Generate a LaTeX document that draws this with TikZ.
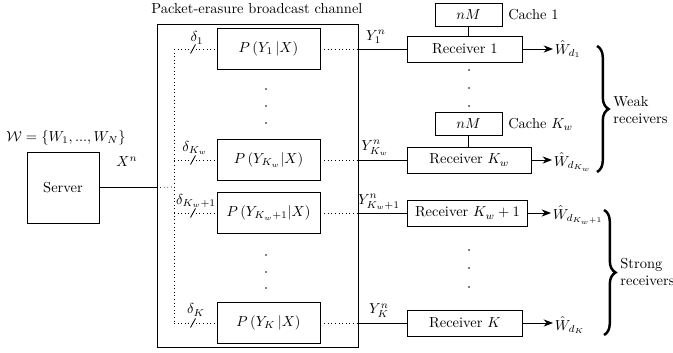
\documentclass[tikz,border=0pt]{standalone}
\usetikzlibrary{arrows.meta,decorations.pathreplacing}
\newcommand\pxl{0.69pt}
\begin{document}
\begin{tikzpicture}[x=0.69pt,y=-0.69pt,line width=0.6pt,
  box/.style={draw,inner sep=0pt},
  pbox/.style={box,minimum width=103*\pxl,minimum height=41*\pxl},
  recbox/.style={box,anchor=west,minimum height=26*\pxl},
  cachebox/.style={box,minimum width=67*\pxl,minimum height=23*\pxl},
  tap/.style={dotted,line width=0.5pt},
  outarrow/.style={-{Stealth[length=6.5pt,width=5pt]}},
  outlabel/.style={anchor=west,inner sep=1pt},
  dotmark/.style={circle,fill,inner sep=0pt,minimum size=1.2pt},
  groupbrace/.style={decorate,decoration={brace,amplitude=8pt},line width=1.7pt},
  bracelabel/.style={anchor=west,align=left,inner sep=0pt}]
\useasboundingbox (0,0) rectangle (673,353);

% channel block
\node (title) at (257,9) {Packet-erasure broadcast channel};
\node[draw,minimum width=201*\pxl,minimum height=323*\pxl] (chan) at (257.5,185.5) {};

\node[pbox] (p1)   at (268.5,49)  {$P\left(Y_1\,|X\right)$};
\node[pbox] (pkw)  at (268.5,160) {$P\left(Y_{K_w}|X\right)$};
\node[pbox] (pkw1) at (268.5,213) {$P\left(Y_{K_w+1}|X\right)$};
\node[pbox] (pk)   at (268.5,323) {$P\left(Y_K\,|X\right)$};

\foreach \yy in {89,106,123,255,272,288}
  \node[dotmark] at (266,\yy) {};

% server and its input
\node[box,minimum width=72*\pxl,minimum height=71*\pxl] (server) at (63,187.5) {Server};
\node (wset) at (66,138) {$\mathcal{W}=\{W_1,...,W_N\}$};
\node (xn) at (127,162) {$X^n$};

\coordinate (split) at (174,187);
\coordinate (t1) at (174,49);
\coordinate (tkw) at (174,160);
\coordinate (tkw1) at (174,213);
\coordinate (tk) at (174,323);

\draw (server.east) -- (server.east -| chan.west) coordinate (entry);
\draw[tap] (entry) -- (split);
\draw[tap] (t1) -- (tk);
\foreach \t/\p in {t1/p1,tkw/pkw,tkw1/pkw1,tk/pk}
  \draw[tap] (\t) -- (\p.west);

% erasure marks
\foreach \yy in {49,160,213,323}
  \draw (193,\yy) ++(-2.5,4.5) -- ++(5,-9);
\node (d1)   at (197,38)  {$\delta_1$};
\node (dkw)  at (195,148) {$\delta_{K_w}$};
\node (dkw1) at (196,201) {$\delta_{K_w+1}$};
\node (dk)   at (196,310) {$\delta_K$};

% receivers
\node[recbox,minimum width=115*\pxl] (rec1)   at (407,49)  {Receiver 1};
\node[recbox,minimum width=124*\pxl] (reckw)  at (407,160) {Receiver $K_w$};
\node[recbox,minimum width=120*\pxl] (reckw1) at (407,213) {Receiver $K_w+1$};
\node[recbox,minimum width=115*\pxl] (reck)   at (407,323) {Receiver $K$};

\foreach \p/\r in {p1/rec1,pkw/reckw,pkw1/reckw1,pk/reck}{
  \draw[tap] (\p.east) -- (\p.east -| chan.east) coordinate (o\p);
  \draw (o\p) -- (\r.west);
}

\node (y1)   at (376,37)  {$Y_1^n$};
\node (ykw)  at (375,148) {$Y_{K_w}^n$};
\node (ykw1) at (379,202) {$Y_{K_w+1}^n$};
\node (yk)   at (379,311) {$Y_K^n$};

\foreach \yy in {70,88,106,250,268,287}
  \node[dotmark] at (469,\yy) {};

% caches
\node[cachebox] (c1)  at (468.5,15)  {$nM$};
\node[cachebox] (ckw) at (468.5,124) {$nM$};
\draw (c1.south) -- (c1.south |- rec1.north);
\draw (ckw.south) -- (ckw.south |- reckw.north);
\node[anchor=west] (lc1)  at (503,15)  {Cache 1};
\node[anchor=west] (lckw) at (503,124) {Cache $K_w$};

% decoded messages
\node[outlabel] (w1)   at (553,49)  {$\hat{W}_{d_1}$};
\node[outlabel] (wkw)  at (552,162) {$\hat{W}_{d_{K_w}}$};
\node[outlabel] (wkw1) at (551,215) {$\hat{W}_{d_{K_w+1}}$};
\node[outlabel] (wk)   at (553,325) {$\hat{W}_{d_K}$};
\draw[outarrow] (rec1.east) -- (rec1.east -| w1.west);
\draw[outarrow] (reckw.east) -- (reckw.east -| wkw.west);
\draw[outarrow] (reckw1.east) -- (reckw1.east -| wkw1.west);
\draw[outarrow] (reck.east) -- (reck.east -| wk.west);

% receiver groups
\coordinate (bwt) at (597,46);
\coordinate (bwb) at (597,172);
\coordinate (bst) at (604,210);
\coordinate (bsb) at (604,335);
\draw[groupbrace] (bwt) -- (bwb);
\draw[groupbrace] (bst) -- (bsb);
\node[bracelabel] (weak) at (613,110) {Weak\\receivers};
\node[bracelabel] (strong) at (620,272) {Strong\\receivers};
\end{tikzpicture}
\end{document}
